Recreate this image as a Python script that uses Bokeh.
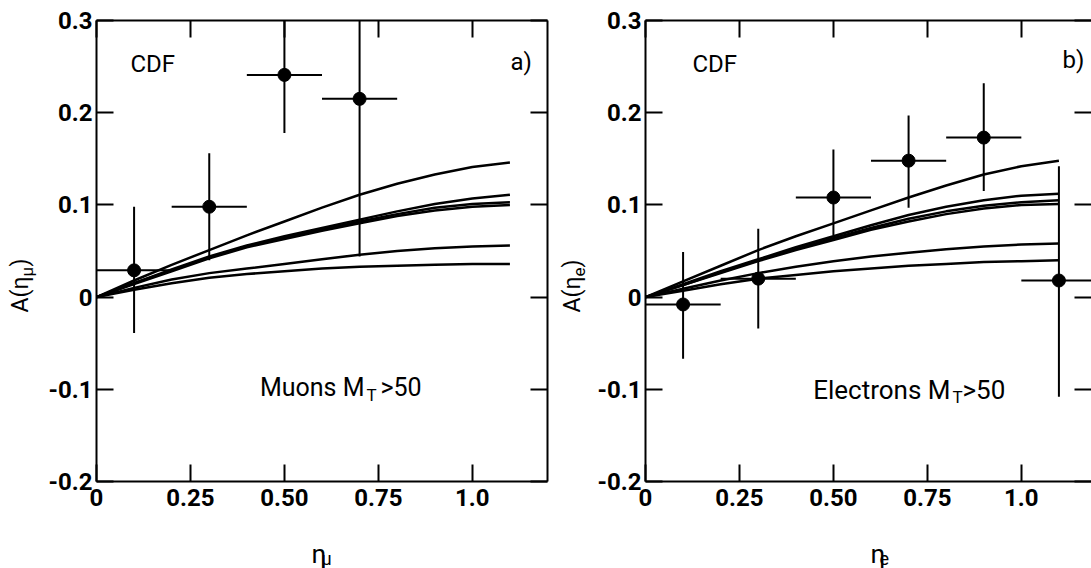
import math
from bokeh.plotting import figure
from bokeh.models import LinearAxis, FixedTicker, Label, Range1d
from bokeh.layouts import row, column
from bokeh.embed import file_html
from bokeh.resources import INLINE

FONT = "Roboto"

# ---------------- data ----------------
curve_x = [0.0, 0.1, 0.2, 0.3, 0.4, 0.5, 0.6, 0.7, 0.8, 0.9, 1.0, 1.1]

mu_curve_a = [0.0, 0.018, 0.035, 0.051, 0.067, 0.082, 0.097, 0.111, 0.123, 0.133, 0.141, 0.146]
mu_curve_b = [0.0, 0.015, 0.030, 0.044, 0.056, 0.066, 0.075, 0.084, 0.093, 0.101, 0.107, 0.111]
mu_curve_c = [0.0, 0.015, 0.029, 0.043, 0.055, 0.064, 0.073, 0.082, 0.090, 0.097, 0.101, 0.103]
mu_curve_d = [0.0, 0.014, 0.028, 0.042, 0.054, 0.063, 0.072, 0.080, 0.088, 0.094, 0.098, 0.100]
mu_curve_e = [0.0, 0.010, 0.019, 0.026, 0.031, 0.036, 0.041, 0.046, 0.050, 0.053, 0.055, 0.056]
mu_curve_f = [0.0, 0.008, 0.015, 0.021, 0.025, 0.028, 0.031, 0.033, 0.034, 0.035, 0.036, 0.036]

el_curve_a = [0.0, 0.017, 0.034, 0.051, 0.066, 0.080, 0.094, 0.108, 0.121, 0.133, 0.142, 0.148]
el_curve_b = [0.0, 0.014, 0.028, 0.041, 0.054, 0.066, 0.078, 0.089, 0.098, 0.105, 0.110, 0.112]
el_curve_c = [0.0, 0.013, 0.027, 0.040, 0.052, 0.064, 0.075, 0.085, 0.093, 0.099, 0.103, 0.105]
el_curve_d = [0.0, 0.013, 0.026, 0.039, 0.051, 0.062, 0.073, 0.082, 0.090, 0.096, 0.100, 0.101]
el_curve_e = [0.0, 0.009, 0.018, 0.026, 0.033, 0.039, 0.044, 0.048, 0.052, 0.055, 0.057, 0.058]
el_curve_f = [0.0, 0.007, 0.014, 0.020, 0.024, 0.028, 0.031, 0.034, 0.036, 0.038, 0.039, 0.040]

mu_eta = [0.1, 0.3, 0.5, 0.7]
mu_asym = [0.029, 0.098, 0.241, 0.215]
mu_err_lo = [-0.039, 0.040, 0.178, 0.044]
mu_err_hi = [0.098, 0.156, 0.304, 0.386]
mu_bin_lo = [0.0, 0.2, 0.4, 0.6]
mu_bin_hi = [0.2, 0.4, 0.6, 0.8]

el_eta = [0.1, 0.3, 0.5, 0.7, 0.9, 1.1]
el_asym = [-0.008, 0.020, 0.108, 0.148, 0.173, 0.018]
el_err_lo = [-0.067, -0.034, 0.067, 0.097, 0.115, -0.108]
el_err_hi = [0.049, 0.074, 0.160, 0.197, 0.232, 0.142]
el_bin_lo = [0.0, 0.2, 0.4, 0.6, 0.8, 1.0]
el_bin_hi = [0.2, 0.4, 0.6, 0.8, 1.0, 1.2]

x_ticks = [0.0, 0.25, 0.5, 0.75, 1.0]
x_tick_labels = ["0", "0.25", "0.50", "0.75", "1.0"]
y_ticks = [-0.2, -0.1, 0.0, 0.1, 0.2, 0.3]
y_tick_labels = ["-0.2", "-0.1", "0", "0.1", "0.2", "0.3"]

# ---------------- layout sizes (pixels) ----------------
FRAME_TOP = 20
FRAME_BOTTOM = 481
H_MAIN = 525           # height of the plotting figures
H_XLAB = 568 - H_MAIN  # height of the strip holding the x titles
SPLIT = 550            # x where the right half starts
W_YLAB_L = 44
W_MAIN_L = SPLIT - W_YLAB_L
W_YLAB_R = 42
W_MAIN_R = 1091 - SPLIT - W_YLAB_R
FRAME_W = 451


# ---------------- helpers ----------------
def make_axis(ticks, labels, show, standoff=0):
    ax = LinearAxis(ticker=FixedTicker(ticks=ticks, minor_ticks=[]),
                    major_tick_in=17, major_tick_out=0,
                    axis_line_width=2, axis_line_color="black",
                    major_tick_line_width=2, major_tick_line_color="black",
                    minor_tick_line_color=None)
    if show:
        ax.major_label_overrides = dict(zip(ticks, labels))
        ax.major_label_text_font = FONT
        ax.major_label_text_font_size = "24px"
        ax.major_label_text_font_style = "bold"
        ax.major_label_text_color = "black"
        ax.major_label_standoff = standoff
    else:
        ax.major_label_text_color = None
        ax.major_label_text_font_size = "1px"
        ax.major_label_standoff = 0
    return ax


def txt(p, sx, sy, s, size, angle=0.0, align="left", baseline="alphabetic"):
    # sx, sy: pixels from the frame's bottom-left corner (y up)
    p.add_layout(Label(x=sx, y=sy, x_units="screen", y_units="screen", text=s,
                       text_font=FONT, text_font_size=f"{size}px",
                       text_align=align, text_baseline=baseline, angle=angle,
                       text_color="black"))


def blank(width, height):
    p = figure(width=width, height=height, x_range=Range1d(0, 1), y_range=Range1d(0, 1),
               output_backend="svg", toolbar_location=None,
               x_axis_location=None, y_axis_location=None, min_border=0,
               outline_line_color=None, background_fill_color="white",
               border_fill_color="white", frame_align=False)
    for g in p.grid:
        g.visible = False
    return p


def panel(width, x_end, min_left, min_right, curves, eta, asym, lo, hi, blo, bhi, right_line=True):
    p = figure(width=width, height=H_MAIN, x_range=Range1d(0, x_end), y_range=Range1d(-0.2, 0.3),
               output_backend="svg", toolbar_location=None,
               x_axis_location=None, y_axis_location=None,
               min_border_left=min_left, min_border_right=min_right,
               min_border_top=FRAME_TOP, min_border_bottom=H_MAIN - FRAME_BOTTOM,
               outline_line_color=None, background_fill_color="white",
               border_fill_color="white")
    for g in p.grid:
        g.visible = False
    p.add_layout(make_axis(x_ticks, x_tick_labels, True, 7), "below")
    p.add_layout(make_axis(x_ticks, x_tick_labels, False), "above")
    p.add_layout(make_axis(y_ticks, y_tick_labels, True, 4), "left")
    r = make_axis(y_ticks, y_tick_labels, False)
    if not right_line:
        r.axis_line_color = None
    p.add_layout(r, "right")

    for c in curves:
        p.line(curve_x, c, line_width=2.5, line_color="black")
    p.segment(x0=eta, y0=lo, x1=eta, y1=hi, line_width=2, line_color="black")
    p.segment(x0=blo, y0=asym, x1=bhi, y1=asym, line_width=2, line_color="black")
    p.scatter(eta, asym, size=13, color="black")
    return p


# ---------------- left panel (muons) ----------------
left_border_l = 96 - W_YLAB_L
pl = panel(W_MAIN_L, 1.2, left_border_l, W_MAIN_L - left_border_l - FRAME_W,
           [mu_curve_a, mu_curve_b, mu_curve_c, mu_curve_d, mu_curve_e, mu_curve_f],
           mu_eta, mu_asym, mu_err_lo, mu_err_hi, mu_bin_lo, mu_bin_hi)
txt(pl, 34, 418, "CDF", 24, baseline="middle")
txt(pl, 414, 420, "a)", 24, baseline="middle")
txt(pl, 268, 94, "Muons M", 25, align="right")
txt(pl, 270, 87, "T", 17)
txt(pl, 284, 94, ">50", 25)

# y title strip (y measured from the strip's bottom)
yl_l = blank(W_YLAB_L, H_MAIN)
txt(yl_l, 20, 249, "A(η", 23, angle=math.pi / 2, align="right")
txt(yl_l, 26, 249, "μ", 17, angle=math.pi / 2, align="left")
txt(yl_l, 20, 259, ")", 23, angle=math.pi / 2, align="left")

# x title strip
xl_l = blank(SPLIT, H_XLAB)
txt(xl_l, 311, 15, "η", 26)
txt(xl_l, 321, 10, "μ", 18)

# ---------------- right panel (electrons) ----------------
left_border_r = 645 - SPLIT - W_YLAB_R
right_frame_px = W_MAIN_R - left_border_r
pr = panel(W_MAIN_R, 1.2 * right_frame_px / FRAME_W, left_border_r, 0,
           [el_curve_a, el_curve_b, el_curve_c, el_curve_d, el_curve_e, el_curve_f],
           el_eta, el_asym, el_err_lo, el_err_hi, el_bin_lo, el_bin_hi, right_line=False)
txt(pr, 47, 418, "CDF", 24, baseline="middle")
txt(pr, 417, 422, "b)", 24, baseline="middle")
txt(pr, 305, 92, "Electrons M", 26, align="right")
txt(pr, 307, 85, "T", 17)
txt(pr, 317, 92, ">50", 26)

yl_r = blank(W_YLAB_R, H_MAIN)
txt(yl_r, 22, 249, "A(η", 23, angle=math.pi / 2, align="right")
txt(yl_r, 28, 249, "e", 17, angle=math.pi / 2, align="left")
txt(yl_r, 22, 258, ")", 23, angle=math.pi / 2, align="left")

xl_r = blank(1091 - SPLIT, H_XLAB)
txt(xl_r, 320, 15, "η", 26)
txt(xl_r, 329, 10, "e", 18)

layout = row(column(row(yl_l, pl), xl_l), column(row(yl_r, pr), xl_r))
open("out.html", "w").write(file_html(layout, INLINE))
